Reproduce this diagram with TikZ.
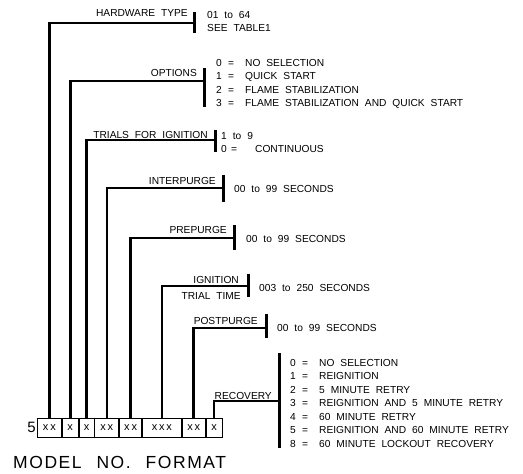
\documentclass[tikz,border=0pt]{standalone}
\usepackage{fontspec}
\setmainfont{Liberation Sans}[WordSpace=2.1]
\newfontfamily\modelfont{Liberation Sans}[LetterSpace=9,WordSpace=2.3]
\usetikzlibrary{positioning}
\newcommand{\opt}[2]{\makebox[12pt][l]{#1}\makebox[17pt][l]{=}#2}

\begin{document}
\begin{tikzpicture}[
  x=1pt, y=-1pt,
  font=\fontsize{10.2}{13.5}\selectfont,
  cell/.style={draw, line width=0.8pt, minimum height=19pt, inner sep=0pt, font=\fontsize{11}{11}\selectfont},
  lead/.style={line width=2.6pt},
  bar/.style={fill=black, minimum width=3pt, inner sep=0pt},
  lbl/.style={anchor=base east, inner sep=0pt},
  val/.style={anchor=north west, inner sep=0pt, align=left}
]
\useasboundingbox (0,0) rectangle (523,474);

% Model number cells
\node[cell, minimum width=24pt, anchor=west] (c1) at (37,427.5) {x\,x};
\node[cell, minimum width=16pt, right=0pt of c1] (c2) {x};
\node[cell, minimum width=15pt, right=0pt of c2] (c3) {x};
\node[cell, minimum width=24pt, right=0pt of c3] (c4) {x\,x};
\node[cell, minimum width=22pt, right=0pt of c4] (c5) {x\,x};
\node[cell, minimum width=39pt, right=0pt of c5] (c6) {x\,x\,x};
\node[cell, minimum width=23pt, right=0pt of c6] (c7) {x\,x};
\node[cell, minimum width=16pt, right=0pt of c7] (c8) {x};
\node[left=1pt of c1, inner sep=0pt, font=\fontsize{15}{15}\selectfont] (five) {5};
\node[anchor=base west, inner sep=0pt, font=\modelfont\fontsize{17.5}{17.5}\selectfont] (title) at (13,468) {MODEL NO. FORMAT};

% Bars
\node[bar, minimum height=21pt] (hwbar) at (194,22.5) {};
\node[bar, minimum height=39pt] (optbar) at (204,87.5) {};
\node[bar, minimum height=22pt] (trbar) at (215,141) {};
\node[bar, minimum height=27pt] (ipbar) at (223,188.5) {};
\node[bar, minimum height=25pt] (ppbar) at (234,237.5) {};
\node[bar, minimum height=23pt] (igbar) at (248,285.5) {};
\node[bar, minimum height=24pt] (pobar) at (266,326) {};
\node[bar, minimum height=95pt] (rcbar) at (279,400.5) {};

% Tap points
\coordinate (hw) at (194,23);
\coordinate (op) at (204,81);
\coordinate (tr) at (215,140);
\coordinate (ip) at (223,188);
\coordinate (pp) at (234,238);
\coordinate (ig) at (248,286);
\coordinate (po) at (266,328);
\coordinate (rc) at (279,401);

% Leads
\draw[lead] (c1.north) |- (hw);
\draw[lead] (c2.north) |- (op);
\draw[lead] (c3.north) |- (tr);
\draw[lead] (c4.north) |- (ip);
\draw[lead] (c5.north) |- (pp);
\draw[lead] (c6.north) |- (ig);
\draw[lead] (c7.north) |- (po);
\draw[lead] (c8.north) |- (rc);

% Labels
\node[lbl] (hwl) at (188,16) {HARDWARE TYPE};
\node[lbl] (opl) at (197,76) {OPTIONS};
\node[lbl] (trl) at (208,138) {TRIALS FOR IGNITION};
\node[lbl] (ipl) at (216,184) {INTERPURGE};
\node[lbl] (ppl) at (227,233) {PREPURGE};
\node[lbl] (igl) at (239,283) {IGNITION};
\node[lbl] (igl2) at (241,299) {TRIAL TIME};
\node[lbl] (pol) at (258,324) {POSTPURGE};
\node[lbl] (rcl) at (272,399) {RECOVERY};

% Values
\node[val] (hwv) at (207,10.8) {01 to 64\\SEE TABLE1};
\node[val] (opv) at (216,58.8) {\opt{0}{NO SELECTION}\\\opt{1}{QUICK START}\\\opt{2}{FLAME STABILIZATION}\\\opt{3}{FLAME STABILIZATION AND QUICK START}};
\node[val] (trv) at (221,131.8) {1 to 9\\\makebox[10pt][l]{0}\makebox[24pt][l]{=}CONTINUOUS};
\node[val] (ipv) at (234,184.8) {00 to 99 SECONDS};
\node[val] (ppv) at (246,234.8) {00 to 99 SECONDS};
\node[val] (igv) at (259,283.8) {003 to 250 SECONDS};
\node[val] (pov) at (277,323.8) {00 to 99 SECONDS};
\node[val] (rcv) at (290,358.8) {\opt{0}{NO SELECTION}\\\opt{1}{REIGNITION}\\\opt{2}{5 MINUTE RETRY}\\\opt{3}{REIGNITION AND 5 MINUTE RETRY}\\\opt{4}{60 MINUTE RETRY}\\\opt{5}{REIGNITION AND 60 MINUTE RETRY}\\\opt{8}{60 MINUTE LOCKOUT RECOVERY}};

\end{tikzpicture}
\end{document}
